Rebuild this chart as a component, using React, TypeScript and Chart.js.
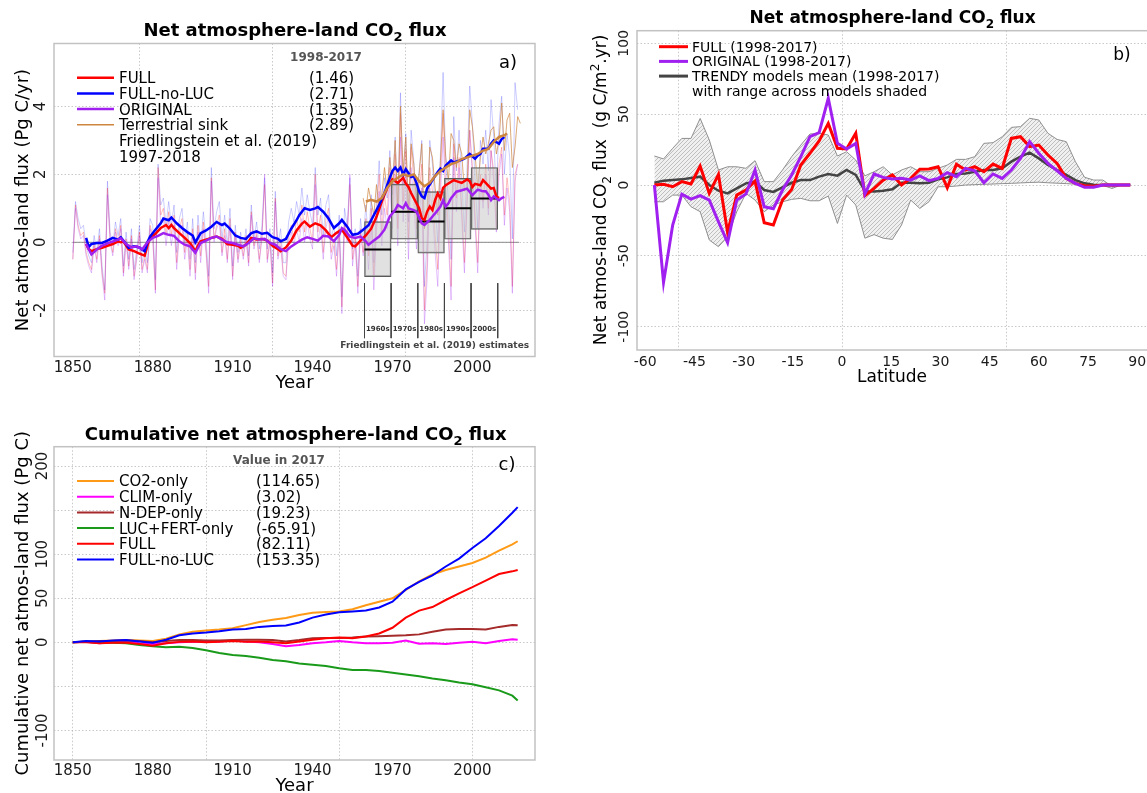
import React, { useEffect, useRef } from 'react';
import { Chart, registerables } from 'chart.js';

Chart.register(...registerables);

const FONT = '"DejaVu Sans", "Liberation Sans", sans-serif';
const CW = 1160;
const CH = 793;
const GRID = 'rgba(165,165,165,0.6)';

// ================= Panel a : annual net atmosphere-land flux (Pg C/yr) =================
const annualYears = Array.from({ length: 168 }, (_, i) => 1850 + i);
const fullAnnual = [
  -0.5, 1.1, 0.5, 0.2, 0.3, -0.3, -0.6, -0.8, 0.0, -0.5,
  0.2, -0.9, -1.5, 1.6, 0.1, -0.3, 0.4, 0.0, 0.5, -0.9,
  0.1, -0.7, 0.2, -1.0, -0.4, 0.3, -0.8, -0.4, -0.8, 0.5,
  0.2, -1.4, 2.2, 0.8, 1.0, 0.2, 0.9, 0.2, 0.8, -0.6,
  0.4, 0.7, -0.3, 0.3, -0.8, 0.4, -0.9, 0.5, -0.4, 0.6,
  -0.2, -1.3, 1.9, 0.1, 0.5, 0.8, -0.3, 0.4, -0.5, 0.7,
  -1.0, 0.3, -0.5, 0.1, -0.4, 0.2, -0.6, 0.9, -0.1, 0.3,
  -0.5, 0.2, 1.7, -0.5, 0.1, -1.2, 1.3, -0.4, 0.1, -0.9,
  -1.0, 0.2, 0.5, 0.1, 0.7, 0.3, 1.1, 0.3, 0.9, 0.4,
  0.0, 2.0, 0.3, 0.8, -0.3, 0.7, 1.0, -0.3, 0.1, -0.8,
  0.4, -1.9, 0.6, 0.2, 1.7, -0.5, 0.1, -1.3, 0.4, -0.3,
  0.7, -0.4, 1.0, -1.0, 0.7, 2.0, 0.3, 1.4, 0.8, 2.2,
  0.9, 2.6, 0.4, 3.8, 1.2, 2.7, 0.1, 2.8, 1.8, 0.4,
  1.4, 2.3, -2.0, -0.6, 2.2, 1.5, 0.2, -0.8, 1.8, 3.8,
  1.6, 0.4, -1.3, 2.9, 1.3, 2.5, 1.0, -0.6, 1.3, 3.3,
  2.2, 0.8, -0.6, 2.0, 1.2, 2.3, 1.0, 2.7, 2.1, 0.4,
  2.3, 2.8, 0.8, 1.9, 1.2, -1.3, 2.0, 2.3,
];
const noLucAnnual = [
  -0.3, 1.2, 0.7, 0.4, 0.5, -0.1, -0.4, -0.6, 0.2, -0.3,
  0.4, -0.7, -1.4, 1.8, 0.3, -0.1, 0.6, 0.2, 0.7, -0.7,
  0.3, -0.5, 0.4, -0.8, -0.2, 0.5, -0.6, -0.2, -0.6, 0.7,
  0.5, -1.1, 2.3, 1.1, 1.3, 0.5, 1.2, 0.5, 1.1, -0.3,
  0.7, 1.0, 0.0, 0.6, -0.5, 0.7, -0.6, 0.8, -0.1, 0.9,
  0.1, -1.0, 2.2, 0.4, 0.9, 1.2, 0.1, 0.8, -0.1, 1.0,
  -0.7, 0.5, -0.3, 0.3, -0.2, 0.4, -0.4, 1.1, 0.1, 0.6,
  -0.2, 0.5, 1.9, -0.2, 0.4, -0.9, 1.5, -0.1, 0.4, -0.6,
  -0.6, 0.6, 1.0, 0.6, 1.2, 0.8, 1.6, 0.8, 1.4, 0.9,
  0.5, 2.2, 0.8, 1.3, 0.2, 1.1, 1.4, 0.1, 0.5, -0.4,
  0.8, -1.6, 1.0, 0.5, 1.9, -0.2, 0.4, -1.0, 0.7, 0.0,
  1.1, 0.0, 1.4, -0.6, 1.1, 2.4, 0.8, 1.9, 1.3, 2.7,
  1.4, 3.1, 1.0, 4.4, 1.7, 3.2, 0.6, 3.3, 2.4, 1.0,
  2.1, 3.0, -1.3, 0.1, 3.0, 2.3, 1.0, 0.0, 2.6, 5.0,
  2.4, 1.2, -0.5, 3.7, 2.1, 3.3, 1.8, 0.3, 2.2, 4.6,
  3.5, 1.8, 0.4, 3.0, 2.3, 3.3, 2.1, 4.2, 3.1, 1.4,
  3.5, 4.3, 2.0, 3.2, 2.5, 0.1, 4.7, 3.9,
];
const originalAnnual = [
  -0.5, 1.0, 0.4, 0.1, 0.2, -0.4, -0.7, -0.9, -0.1, -0.6,
  0.1, -1.0, -1.7, 1.4, 0.0, -0.4, 0.3, -0.1, 0.4, -1.0,
  0.0, -0.8, 0.1, -1.1, -0.5, 0.2, -0.9, -0.5, -0.9, 0.4,
  0.1, -1.5, 1.9, 0.5, 0.7, -0.1, 0.6, -0.1, 0.5, -0.8,
  0.2, 0.5, -0.5, 0.1, -1.0, 0.2, -1.1, 0.3, -0.6, 0.4,
  -0.3, -1.5, 1.8, 0.0, 0.4, 0.6, -0.4, 0.2, -0.6, 0.5,
  -1.1, 0.2, -0.6, 0.0, -0.5, 0.1, -0.7, 0.8, -0.2, 0.2,
  -0.6, 0.1, 2.0, -0.6, 0.0, -1.3, 1.2, -0.5, -0.1, -1.0,
  -1.1, 0.0, 0.3, -0.1, 0.4, 0.0, 0.7, 0.0, 0.6, 0.1,
  -0.2, 1.7, 0.0, 0.5, -0.5, 0.4, 0.8, -0.5, -0.1, -1.0,
  0.3, -2.1, 0.5, 0.0, 2.0, -0.7, 0.0, -1.5, 0.3, -0.4,
  0.3, -0.8, 0.5, -1.4, 0.3, 1.5, -0.1, 1.0, 0.4, 1.7,
  0.4, 2.0, -0.1, 3.1, 0.6, 2.1, -0.5, 2.2, 1.2, -0.2,
  0.8, 1.6, -2.4, -1.1, 1.6, 0.9, -0.3, -1.3, 1.3, 3.1,
  1.2, 0.0, -1.7, 2.5, 0.9, 2.2, 0.7, -0.9, 1.1, 3.3,
  2.0, 0.5, -0.9, 1.8, 1.0, 2.0, 0.8, 2.7, 1.8, 0.3,
  2.0, 2.6, 0.5, 1.6, 0.9, -1.5, 1.8, 2.3,
];
const sinkYears = Array.from({ length: 60 }, (_, i) => 1959 + i);
const sinkAnnual = [
  1.3, 0.9, 1.6, 1.2, 0.8, 1.7, 1.0, 1.4, 2.2, 1.5,
  2.5, 1.6, 3.0, 1.0, 4.0, 2.1, 3.1, 0.9, 2.9, 2.3,
  1.2, 2.0, 2.9, 0.4, 0.9, 2.8, 2.5, 1.6, 0.8, 2.4,
  3.9, 2.5, 1.8, 3.2, 3.0, 2.2, 2.9, 2.6, 1.5, 1.6,
  3.9, 3.4, 2.6, 1.6, 2.5, 3.1, 2.6, 2.9, 3.3, 3.4,
  2.6, 3.0, 4.1, 2.7, 3.6, 3.8, 2.2, 2.8, 3.7, 3.5,
];
// 10-year running means [year, value]
const fullSmooth = [
  [1855, -0.05], [1856, -0.2], [1857, -0.26], [1859, -0.2], [1861, -0.16], [1863, -0.1], [1865, -0.05], [1867, 0.03], [1868, 0.0], [1869, 0.02],
  [1871, -0.21], [1873, -0.26], [1875, -0.33], [1876, -0.36], [1877, -0.39], [1878, -0.1], [1879, 0.13], [1881, 0.25], [1883, 0.42], [1885, 0.51],
  [1886, 0.42], [1887, 0.51], [1888, 0.42], [1890, 0.27], [1892, 0.13], [1894, -0.02], [1896, -0.26], [1897, -0.1], [1898, 0.03], [1900, 0.08],
  [1902, 0.13], [1904, 0.17], [1906, 0.1], [1908, -0.05], [1910, -0.07], [1912, -0.1], [1913, -0.16], [1915, -0.07], [1917, 0.13], [1919, 0.08],
  [1921, 0.1], [1923, 0.05], [1925, -0.1], [1927, -0.2], [1928, -0.26], [1930, -0.15], [1932, 0.05], [1934, 0.35], [1936, 0.55], [1937, 0.61],
  [1939, 0.46], [1941, 0.56], [1943, 0.5], [1945, 0.35], [1947, 0.15], [1949, 0.28], [1951, 0.37], [1953, 0.15], [1955, -0.1], [1956, -0.12],
  [1958, 0.05], [1960, 0.2], [1962, 0.4], [1964, 0.75], [1966, 1.2], [1968, 1.6], [1970, 1.85], [1972, 1.75], [1974, 1.9], [1975, 1.73],
  [1976, 1.63], [1977, 1.45], [1978, 1.3], [1979, 1.15], [1980, 1.0], [1981, 0.71], [1982, 0.66], [1983, 0.9], [1984, 1.05], [1985, 0.95],
  [1986, 1.24], [1987, 1.44], [1988, 1.3], [1989, 1.6], [1990, 1.68], [1991, 1.73], [1993, 1.83], [1994, 1.8], [1996, 1.75], [1998, 1.85],
  [1999, 1.8], [2000, 1.63], [2001, 1.72], [2003, 1.68], [2004, 1.83], [2005, 1.75], [2007, 1.58], [2008, 1.6], [2009, 1.35], [2010, 1.3],
];
const noLucSmooth = [
  [1855, 0.13], [1856, -0.14], [1857, -0.05], [1859, -0.02], [1861, -0.02], [1863, 0.05], [1865, 0.13], [1867, 0.08], [1868, 0.15], [1870, -0.05],
  [1871, -0.16], [1873, -0.12], [1875, -0.15], [1876, -0.22], [1877, -0.26], [1878, 0.0], [1879, 0.17], [1881, 0.37], [1883, 0.56], [1884, 0.7],
  [1886, 0.65], [1887, 0.73], [1889, 0.56], [1891, 0.42], [1893, 0.3], [1895, 0.2], [1896, 0.0], [1898, 0.27], [1900, 0.35], [1902, 0.46],
  [1904, 0.6], [1906, 0.51], [1907, 0.55], [1909, 0.4], [1911, 0.2], [1913, 0.13], [1915, 0.1], [1917, 0.27], [1919, 0.32], [1921, 0.25],
  [1923, 0.28], [1925, 0.15], [1927, 0.1], [1928, 0.03], [1930, 0.1], [1932, 0.4], [1934, 0.65], [1935, 0.8], [1937, 1.0], [1939, 0.95],
  [1941, 1.0], [1942, 1.04], [1944, 0.9], [1946, 0.7], [1948, 0.42], [1950, 0.56], [1951, 0.66], [1953, 0.46], [1955, 0.22], [1957, 0.25],
  [1959, 0.37], [1961, 0.5], [1963, 0.8], [1965, 1.1], [1967, 1.45], [1969, 1.9], [1970, 2.1], [1971, 2.2], [1972, 2.1], [1973, 2.2],
  [1974, 2.0], [1975, 2.15], [1977, 1.92], [1978, 1.95], [1979, 1.75], [1980, 1.5], [1981, 1.35], [1982, 1.3], [1983, 1.58], [1984, 1.7],
  [1985, 1.83], [1987, 2.07], [1988, 2.17], [1989, 2.1], [1990, 2.26], [1992, 2.41], [1993, 2.35], [1995, 2.4], [1997, 2.46], [1999, 2.6],
  [2001, 2.46], [2002, 2.55], [2003, 2.6], [2004, 2.75], [2006, 2.75], [2007, 2.9], [2008, 3.0], [2010, 2.9], [2011, 3.04], [2012, 3.1],
];
const originalSmooth = [
  [1855, -0.05], [1857, -0.36], [1859, -0.21], [1861, -0.1], [1864, 0.0], [1867, 0.08], [1868, 0.12], [1870, -0.05], [1872, -0.15], [1874, -0.12],
  [1876, -0.21], [1878, 0.0], [1880, 0.13], [1882, 0.19], [1884, 0.27], [1886, 0.22], [1888, 0.19], [1890, 0.03], [1892, -0.07], [1894, -0.12],
  [1896, -0.31], [1898, -0.02], [1900, 0.05], [1902, 0.13], [1904, 0.17], [1906, 0.08], [1908, 0.0], [1910, -0.02], [1912, -0.07], [1914, -0.12],
  [1916, -0.02], [1918, 0.12], [1920, 0.08], [1922, 0.1], [1924, -0.02], [1926, -0.07], [1928, -0.2], [1930, -0.26], [1932, -0.12], [1934, -0.02],
  [1936, 0.08], [1938, 0.15], [1940, 0.1], [1942, 0.05], [1944, 0.19], [1946, 0.17], [1948, 0.03], [1950, 0.22], [1951, 0.42], [1952, 0.37],
  [1954, 0.17], [1956, 0.13], [1958, 0.17], [1960, 0.03], [1961, -0.07], [1963, 0.05], [1965, 0.17], [1967, 0.37], [1969, 0.76], [1971, 0.95],
  [1972, 1.1], [1974, 1.0], [1975, 1.15], [1976, 1.0], [1978, 0.95], [1979, 0.9], [1981, 0.56], [1982, 0.51], [1984, 0.66], [1985, 0.76],
  [1986, 0.85], [1988, 1.05], [1989, 1.24], [1990, 1.05], [1991, 1.15], [1992, 1.3], [1994, 1.49], [1996, 1.53], [1998, 1.58], [2000, 1.39],
  [2002, 1.55], [2004, 1.5], [2005, 1.5], [2006, 1.4], [2007, 1.24], [2008, 1.35], [2010, 1.24], [2011, 1.3], [2012, 1.34],
];
const sinkSmooth = [
  [1960, 1.2], [1962, 1.25], [1964, 1.2], [1966, 1.3], [1968, 1.6], [1970, 1.8], [1972, 1.9], [1974, 2.0], [1976, 1.95], [1978, 2.0],
  [1980, 1.8], [1982, 1.65], [1984, 1.75], [1986, 1.95], [1988, 2.1], [1990, 2.2], [1992, 2.3], [1994, 2.35], [1996, 2.45], [1998, 2.5],
  [2000, 2.55], [2002, 2.6], [2004, 2.7], [2006, 2.75], [2008, 2.95], [2010, 3.1], [2012, 3.15], [2013, 3.2],
];
// Friedlingstein et al. (2019) decadal estimates
const decadeLabels = ['1960s', '1970s', '1980s', '1990s', '2000s'];
const decadeEdges = [1959.5, 1969.5, 1979.5, 1989.5, 1999.5, 2009.5];
const decadeMean = [-0.21, 0.9, 0.61, 1.0, 1.29];
const decadeLow = [-1.01, 0.09, -0.32, 0.09, 0.38];
const decadeHigh = [0.61, 1.71, 1.49, 1.88, 2.2];
const decadeRuleRange = [-1.2, -2.82];
const zeroLineYears = [1850, 2017.5];
const legendA = [
  { label: 'FULL', value: '(1.46)', color: '#ff0000', width: 2.5 },
  { label: 'FULL-no-LUC', value: '(2.71)', color: '#0000ff', width: 2.5 },
  { label: 'ORIGINAL', value: '(1.35)', color: '#a020f0', width: 2.5 },
  { label: 'Terrestrial sink', value: '(2.89)', color: '#cd853f', width: 1.5 },
  { label: 'Friedlingstein et al. (2019)' },
  { label: '1997-2018' },
];
const xTickLabelsYears = [1850, 1880, 1910, 1940, 1970, 2000];
const xGridYears = [1850, 1900, 1950, 2000];
const yTicksA = [-2, 0, 2, 4];

// ================= Panel b : latitudinal profile (g C/m2/yr) =================
const lats = [
  -57.2, -54.41, -51.62, -48.83, -46.04, -43.25, -40.46, -37.67, -34.88, -32.09, -29.3, -26.51, -23.72, -20.93, -18.14, -15.35, -12.56, -9.77, -6.98, -4.19, -1.4,
  1.4, 4.19, 6.98, 9.77, 12.56, 15.35, 18.14, 20.93, 23.72, 26.51, 29.3, 32.09, 34.88, 37.67, 40.46, 43.25, 46.04, 48.83, 51.62, 54.41,
  57.2, 59.99, 62.78, 65.57, 68.36, 71.15, 73.94, 76.73, 79.52, 82.31, 85.1, 87.86,
];
const latFull = [
  0, 0.5, -1.2, 2.4, 0.7, 13.4, -5.9, 7.5, -33.4, -7.1, -3.5, 2.8, -26.6, -28.2, -10.6, -3.1, 14.1, 22.4, 31.1, 43.5, 25.9,
  25.4, 36.5, -7.5, -2.4, 3.5, 7.1, 0, 4.7, 11.1, 11.3, 12.9, -1.9, 14.6, 10.6, 12.9, 9.4, 14.8, 11.8, 32.9, 34.1,
  27.1, 28.2, 21.2, 15.3, 4.7, 1.2, -0.5, -0.8, 0, 0, 0, 0,
];
const latOriginal = [
  0, -68.7, -28.2, -6.4, -9.9, -7.5, -10.6, -25.9, -40.7, -10.6, -6.4, 10.6, -15.3, -16.7, -3.5, 7.1, 20, 34.1, 36.9, 61.2, 29.4,
  25.4, 29.4, -6.4, 7.8, 5.4, 4.2, 4.7, 3.5, 6.4, 3.1, 4.7, 8.7, 5.9, 11.8, 10.1, 1.6, 7.8, 4.7, 10.6, 18.8,
  30.6, 22.4, 15.3, 10.1, 4.7, 1.2, -1.6, -1.6, 0, 0, 0, 0,
];
const latTrendyMean = [
  1.6, 3.1, 3.5, 4, 4.9, 5.9, 0, -4, -5.9, -2.4, 1.2, 2.4, -3.5, -4.9, -1.6, 1.6, 3.5, 3.5, 5.9, 7.8, 6.6,
  10.6, 7.1, -4.3, -4.5, -4, -3, 1.6, 1.6, 1.2, 1.6, 4, 5.4, 7.8, 8.2, 9.4, 10.6, 10.6, 11.8, 16.5, 20,
  22.8, 18.8, 14.1, 10.6, 7.1, 3.5, 1.2, 0.2, 0, 0, 0, 0,
];
const latTrendyMax = [
  20.5, 18.4, 25.9, 32.9, 32.9, 47, 31.8, 10.6, 12.9, 12.9, 11.8, 17.2, 2.4, 2.4, 10.6, 20, 28.2, 36, 36.5, 35.3, 20.5,
  23.5, 17.6, 6.5, 9.4, 12.9, 7.1, 10.6, 12.9, 9.4, 9.4, 11.8, 14.1, 18.1, 18.1, 20, 29.4, 29.9, 34.1, 40.7, 41.2,
  47.1, 45.9, 36.5, 32.2, 30.6, 16.5, 5.5, 3.5, 3.5, -1.0, 0.5, 0,
];
const latTrendyMin = [
  -11.8, -11.8, -7.1, -7.1, -15.3, -18.8, -38.8, -43.5, -36.5, -18.8, -5.9, -10.6, -18.8, -14.1, -11.8, -10.1, -9.4, -11.1, -11.1, -7.8, -27.1,
  -7.1, -14.1, -37.5, -35, -37.5, -38.4, -28.2, -10.6, -16.5, -11.8, -1.2, -1.2, -0.7, 0, 0.3, 0.5, 0.7, 1.0, 1.2, 1.5,
  1.8, 2.0, 1.6, 1.3, 1.0, 0.6, 0.3, 0, -0.3, -2.4, 0, 0,
];
const legendB = [
  { label: 'FULL (1998-2017)', color: '#ff0000', width: 3 },
  { label: 'ORIGINAL (1998-2017)', color: '#a020f0', width: 3 },
  { label: 'TRENDY models mean (1998-2017)', color: '#444444', width: 3 },
  { label: 'with range across models shaded' },
];
const xTickLabelsLat = [-60, -45, -30, -15, 0, 15, 30, 45, 60, 75, 90];
const xGridLat = [-50, 0, 50];
const yTicksB = [-100, -50, 0, 50, 100];

// ================= Panel c : cumulative flux (Pg C) =================
const cumYears = [1850, 1855, 1860, 1865, 1870, 1875, 1880, 1885, 1890, 1895, 1900, 1905, 1910, 1915, 1920, 1925, 1930, 1935, 1940, 1945, 1950, 1955, 1960, 1965, 1970, 1975, 1980, 1985, 1990, 1995, 2000, 2005, 2010, 2015, 2017];
const cumCO2 = [0, 1, 1.5, 2, 2.5, 2, 1.5, 4, 9, 12, 13.5, 14.5, 16, 19.5, 23, 25.5, 27.5, 31, 33.5, 34.5, 35, 37.5, 42, 46, 50, 59.5, 69, 77, 82, 86, 90, 96, 104, 111, 114.65];
const cumCLIM = [0, 0.5, -1, 0, 0.5, -1, -2, -1, 0, 0.5, 0.5, 1, 2, 1, 0, -2, -4.5, -3, -1, 0, 1.5, 0, -1, -1, -0.5, 2, -1.5, -1, -2, -0.5, 0.5, -1, 1.5, 3.5, 3.02];
const cumNDEP = [0, 0.5, 1.5, 1.5, 2, 1.5, 0, 1.5, 2.5, 2.5, 2, 2, 2.5, 3, 3, 2.5, 1, 2.5, 4.5, 5, 5, 5.5, 6.5, 7, 7.5, 8, 9, 12, 14.5, 15, 15, 14.5, 17.5, 19.5, 19.23];
const cumLUCFERT = [0, 0.5, -0.5, -0.5, -1, -3, -4.5, -5.5, -5, -6.5, -9, -12, -14.5, -15.5, -17.5, -20, -21.5, -24, -25.5, -27, -29.5, -31.5, -31.5, -32.5, -34.5, -36.5, -38.5, -41, -43, -45.5, -47.5, -51, -54.5, -60.5, -65.91];
const cumFULL = [0, 0, -1, -0.5, -0.5, -2, -4, -1, 0.5, 1, 0, 0.5, 1.5, 0.5, 0.8, 0, -1, 1, 3, 4.5, 5.5, 4.5, 6.5, 10, 16.5, 28, 36, 40, 48, 55.5, 62.5, 70, 77.5, 80.5, 82.11];
const cumNoLUC = [0, 1.5, 1, 2, 2.5, 1, -0.5, 3, 8, 10, 11, 12.5, 14.5, 15, 17.5, 18.5, 19, 22.5, 28, 31.5, 34, 35, 36, 39.5, 46, 60, 68.5, 76, 86, 95, 107, 118, 132, 147, 153.35];
const legendC = [
  { label: 'CO2-only', value: '(114.65)', color: '#ff9a16', width: 2 },
  { label: 'CLIM-only', value: '(3.02)', color: '#ff00ff', width: 2 },
  { label: 'N-DEP-only', value: '(19.23)', color: '#a52a2a', width: 2 },
  { label: 'LUC+FERT-only', value: '(-65.91)', color: '#1a9a1a', width: 2 },
  { label: 'FULL', value: '(82.11)', color: '#ff0000', width: 2 },
  { label: 'FULL-no-LUC', value: '(153.35)', color: '#0000ff', width: 2 },
];
const yGridC = [-100, -50, 0, 50, 100, 150, 200];
const yTickLabelsC = [-100, 0, 50, 100, 200];

// ================= helpers =================
const pts = (xs: number[], ys: number[]) => ys.map((y, i) => ({ x: xs[i], y }));
const pairPts = (p: number[][]) => p.map(([x, y]) => ({ x, y }));

type Part = [string, number];
function rich(ctx: CanvasRenderingContext2D, parts: Part[], x: number, y: number, size: number, o: any = {}) {
  ctx.save();
  const small = Math.round(size * 0.72);
  const fontFor = (k: number) => `${o.bold ? 'bold ' : ''}${k ? small : size}px ${FONT}`;
  let total = 0;
  const ws = parts.map(([t, k]) => {
    ctx.font = fontFor(k);
    const w = ctx.measureText(t).width;
    total += w;
    return w;
  });
  ctx.translate(x, y);
  if (o.rot) ctx.rotate(-Math.PI / 2);
  let cx = o.align === 'left' ? 0 : -total / 2;
  ctx.fillStyle = o.color || '#000';
  ctx.textAlign = 'left';
  ctx.textBaseline = 'alphabetic';
  const base = size * 0.36;
  parts.forEach(([t, k], i) => {
    ctx.font = fontFor(k);
    const dy = k === 1 ? size * 0.3 : k === 2 ? -size * 0.42 : 0;
    ctx.fillText(t, cx, base + dy);
    cx += ws[i];
  });
  ctx.restore();
}
const txt = (ctx: CanvasRenderingContext2D, s: string, x: number, y: number, size: number, o: any = {}) =>
  rich(ctx, [[s, 0]], x, y, size, o);

function legend(ctx: CanvasRenderingContext2D, rows: any[], x0: number, x1: number, tx: number, vx: number, y0: number, dy: number, size: number) {
  rows.forEach((r, i) => {
    const y = y0 + i * dy;
    if (r.color) {
      ctx.save();
      ctx.strokeStyle = r.color;
      ctx.lineWidth = r.width;
      ctx.beginPath();
      ctx.moveTo(x0, y);
      ctx.lineTo(x1, y);
      ctx.stroke();
      ctx.restore();
    }
    txt(ctx, r.label, tx, y, size, { align: 'left' });
    if (r.value) txt(ctx, r.value, vx, y, size, { align: 'left' });
  });
}

function frame(ctx: CanvasRenderingContext2D, chart: any) {
  const a = chart.chartArea;
  ctx.save();
  ctx.strokeStyle = '#c2c2c2';
  ctx.lineWidth = 1.5;
  ctx.strokeRect(a.left, a.top, a.right - a.left, a.bottom - a.top);
  ctx.restore();
}

function axis(min: number, max: number, gridVals: number[]) {
  return {
    type: 'linear',
    min,
    max,
    offset: false,
    afterBuildTicks: (ax: any) => {
      ax.ticks = gridVals.map((v) => ({ value: v }));
    },
    ticks: { display: false },
    grid: { drawTicks: false, color: GRID, lineWidth: 1 },
    border: { display: false, dash: [1.5, 2] },
  };
}

const lineDs = (data: any[], color: string, width: number, order: number, extra: any = {}) => ({
  type: 'line',
  data,
  borderColor: color,
  backgroundColor: color,
  borderWidth: width,
  pointRadius: 0,
  fill: false,
  tension: 0,
  order,
  ...extra,
});

const baseOptions = (pad: any, scales: any) => ({
  responsive: false,
  maintainAspectRatio: false,
  animation: false,
  layout: { padding: pad },
  plugins: { legend: { display: false }, tooltip: { enabled: false }, title: { display: false } },
  elements: { point: { radius: 0 } },
  scales,
});

// ---------- configs ----------
function configA(): any {
  const meanLine: any[] = [];
  const rules: any[] = [];
  decadeMean.forEach((m, i) => {
    meanLine.push({ x: decadeEdges[i], y: m }, { x: decadeEdges[i + 1], y: m }, { x: decadeEdges[i + 1], y: null });
  });
  decadeEdges.forEach((e) => {
    rules.push({ x: e, y: decadeRuleRange[0] }, { x: e, y: decadeRuleRange[1] }, { x: e, y: null });
  });
  const boxes = decadeMean.map((_, i) => ({ x: (decadeEdges[i] + decadeEdges[i + 1]) / 2, y: [decadeLow[i], decadeHigh[i]] }));
  const decor = {
    id: 'decorA',
    afterDraw(chart: any) {
      const ctx = chart.ctx;
      const xs = chart.scales.x;
      const ys = chart.scales.y;
      frame(ctx, chart);
      rich(ctx, [['Net atmosphere-land CO', 0], ['2', 1], [' flux', 0]], 295, 29.5, 18, { bold: true });
      txt(ctx, 'a)', 508, 62, 18);
      txt(ctx, '1998-2017', 326, 57, 12, { bold: true, color: '#555' });
      legend(ctx, legendA, 77, 114, 119, 309, 77.7, 15.7, 15);
      xTickLabelsYears.forEach((v) => txt(ctx, String(v), xs.getPixelForValue(v), 366.5, 15, { color: '#1a1a1a' }));
      txt(ctx, 'Year', 294.5, 381.5, 18);
      yTicksA.forEach((v) => txt(ctx, String(v), 40, ys.getPixelForValue(v), 15, { rot: true, color: '#1a1a1a' }));
      txt(ctx, 'Net atmos-land flux (Pg C/yr)', 21.5, 200, 18, { rot: true });
      decadeLabels.forEach((s, i) =>
        txt(ctx, s, xs.getPixelForValue((decadeEdges[i] + decadeEdges[i + 1]) / 2), ys.getPixelForValue(-2.53), 7, { bold: true, color: '#333' })
      );
      txt(ctx, 'Friedlingstein et al. (2019) estimates', xs.getPixelForValue(1985.85), ys.getPixelForValue(-3.0), 9, { bold: true, color: '#444' });
    },
  };
  return {
    type: 'line',
    data: {
      datasets: [
        lineDs(pts(zeroLineYears, [0, 0]), '#8c8c8c', 1, 30),
        lineDs(pts(annualYears, fullAnnual), 'rgba(255,0,0,0.25)', 1, 22),
        lineDs(pts(annualYears, noLucAnnual), 'rgba(0,0,255,0.2)', 1, 23),
        lineDs(pts(annualYears, originalAnnual), 'rgba(160,32,240,0.27)', 1, 21),
        lineDs(pts(sinkYears, sinkAnnual), 'rgba(205,133,63,0.7)', 1, 20),
        {
          type: 'bar',
          data: boxes,
          backgroundColor: 'rgba(200,200,200,0.55)',
          borderColor: '#5a5a5a',
          borderWidth: 1,
          borderSkipped: false,
          barPercentage: 1,
          categoryPercentage: 1,
          grouped: false,
          order: 15,
        },
        lineDs(meanLine, '#000000', 2, 14, { spanGaps: false }),
        lineDs(rules, '#444444', 1, 14, { spanGaps: false }),
        lineDs(pairPts(fullSmooth), '#ff0000', 2.5, 5),
        lineDs(pairPts(noLucSmooth), '#0000ff', 2.5, 4),
        lineDs(pairPts(originalSmooth), '#a020f0', 2.5, 3),
        lineDs(pairPts(sinkSmooth), '#cd853f', 2.5, 2),
      ],
    },
    options: baseOptions(
      { left: 54, top: 43.5, right: CW - 535, bottom: CH - 356.5 },
      { x: axis(1842.94, 2023.5, xGridYears), y: axis(-3.36, 5.85, yTicksA) }
    ),
    plugins: [decor],
  };
}

function hatch(): any {
  const c = document.createElement('canvas');
  c.width = 4;
  c.height = 4;
  const g = c.getContext('2d');
  if (!g) return '#dddddd';
  g.fillStyle = '#f0f0f0';
  g.fillRect(0, 0, 4, 4);
  g.strokeStyle = '#a8a8a8';
  g.lineWidth = 0.7;
  g.beginPath();
  g.moveTo(0, 4);
  g.lineTo(4, 0);
  g.moveTo(-1, 1);
  g.lineTo(1, -1);
  g.moveTo(3, 5);
  g.lineTo(5, 3);
  g.stroke();
  return g.createPattern(c, 'repeat') || '#dddddd';
}

function configB(): any {
  const decor = {
    id: 'decorB',
    afterDraw(chart: any) {
      const ctx = chart.ctx;
      const xs = chart.scales.x;
      const ys = chart.scales.y;
      frame(ctx, chart);
      rich(ctx, [['Net atmosphere-land CO', 0], ['2', 1], [' flux', 0]], 892.6, 17, 17, { bold: true });
      txt(ctx, 'b)', 1122, 54, 17);
      legend(ctx, legendB, 659, 688, 692, 0, 46.7, 14.7, 14);
      xTickLabelsLat.forEach((v) => txt(ctx, String(v), xs.getPixelForValue(v), 361, 14, { color: '#1a1a1a' }));
      txt(ctx, 'Latitude', 892, 376, 17);
      yTicksB.forEach((v) => txt(ctx, String(v), 623, ys.getPixelForValue(v), 14, { rot: true, color: '#1a1a1a' }));
      rich(ctx, [['Net atmos-land CO', 0], ['2', 1], [' flux  (g C/m', 0], ['2', 2], ['.yr)', 0]], 600, 190, 17, { rot: true });
    },
  };
  return {
    type: 'line',
    data: {
      datasets: [
        lineDs(pts(lats, latTrendyMax), '#8f8f8f', 1, 10, { fill: '+1', backgroundColor: hatch() }),
        lineDs(pts(lats, latTrendyMin), '#8f8f8f', 1, 9),
        lineDs(pts(lats, latTrendyMean), '#444444', 2.5, 3),
        lineDs(pts(lats, latFull), '#ff0000', 3, 2),
        lineDs(pts(lats, latOriginal), '#a020f0', 3, 1),
      ],
    },
    options: baseOptions(
      { left: 637, top: 30.7, right: CW - 1152, bottom: CH - 350 },
      { x: axis(-62.5, 94.5, xGridLat), y: axis(-116.4, 108.9, yTicksB) }
    ),
    plugins: [decor],
  };
}

function configC(): any {
  const decor = {
    id: 'decorC',
    afterDraw(chart: any) {
      const ctx = chart.ctx;
      const xs = chart.scales.x;
      const ys = chart.scales.y;
      frame(ctx, chart);
      rich(ctx, [['Cumulative net atmosphere-land CO', 0], ['2', 1], [' flux', 0]], 295.7, 433.3, 18, { bold: true });
      txt(ctx, 'c)', 507, 464, 18);
      txt(ctx, 'Value in 2017', 279, 460, 12, { bold: true, color: '#555' });
      legend(ctx, legendC, 77, 114, 119, 256, 481, 15.7, 15);
      xTickLabelsYears.forEach((v) => txt(ctx, String(v), xs.getPixelForValue(v), 770, 15, { color: '#1a1a1a' }));
      txt(ctx, 'Year', 294.5, 785, 18);
      yTickLabelsC.forEach((v) => txt(ctx, String(v), 42, ys.getPixelForValue(v), 15, { rot: true, color: '#1a1a1a' }));
      txt(ctx, 'Cumulative net atmos-land flux (Pg C)', 21.5, 603.3, 18, { rot: true });
    },
  };
  return {
    type: 'line',
    data: {
      datasets: [
        lineDs(pts(cumYears, cumCO2), legendC[0].color, 2, 6),
        lineDs(pts(cumYears, cumCLIM), legendC[1].color, 2, 5),
        lineDs(pts(cumYears, cumNDEP), legendC[2].color, 2, 4),
        lineDs(pts(cumYears, cumLUCFERT), legendC[3].color, 2, 3),
        lineDs(pts(cumYears, cumFULL), legendC[4].color, 2, 2),
        lineDs(pts(cumYears, cumNoLUC), legendC[5].color, 2, 1),
      ],
    },
    options: baseOptions(
      { left: 54, top: 446.7, right: CW - 535, bottom: CH - 760 },
      { x: axis(1842.94, 2023.5, xGridYears), y: axis(-133.5, 221.9, yGridC) }
    ),
    plugins: [decor],
  };
}

export default function App() {
  const refA = useRef<HTMLCanvasElement>(null);
  const refB = useRef<HTMLCanvasElement>(null);
  const refC = useRef<HTMLCanvasElement>(null);
  useEffect(() => {
    const charts: Chart[] = [];
    if (refA.current) charts.push(new Chart(refA.current, configA()));
    if (refB.current) charts.push(new Chart(refB.current, configB()));
    if (refC.current) charts.push(new Chart(refC.current, configC()));
    return () => charts.forEach((c) => c.destroy());
  }, []);
  const cs: React.CSSProperties = { position: 'absolute', left: 0, top: 0 };
  return (
    <div style={{ position: 'absolute', left: 0, top: 0, width: 1147, height: 793, overflow: 'hidden', background: '#ffffff' }}>
      <canvas ref={refA} width={CW} height={CH} style={cs} />
      <canvas ref={refB} width={CW} height={CH} style={cs} />
      <canvas ref={refC} width={CW} height={CH} style={cs} />
    </div>
  );
}
